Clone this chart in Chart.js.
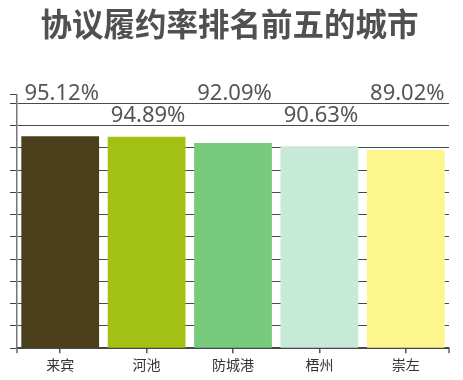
<!DOCTYPE html>
<html>
<head>
<meta charset="utf-8">
<style>
  html, body { margin: 0; padding: 0; background: #ffffff; }
  #wrap { width: 463px; height: 380px; position: relative; }
</style>
<script src="https://cdn.jsdelivr.net/npm/chart.js@4/dist/chart.umd.min.js"></script>
</head>
<body>
<div id="wrap"><canvas id="c" width="463" height="380"></canvas></div>
<script>
const titleText = '协议履约率排名前五的城市';
const categories = ['来宾', '河池', '防城港', '梧州', '崇左'];
const rates = [95.12, 94.89, 92.09, 90.63, 89.02];
const barColors = ['#4b401b', '#a3c014', '#78ca7d', '#c6e9d8', '#fdf68d'];
const yTicks = [0, 10, 20, 30, 40, 50, 60, 70, 80, 90, 100, 110, 114];
const yMax = 114;
const labelRows = [110, 100]; // gridline values the alternating labels sit on

const valueLabels = {
  id: 'valueLabels',
  afterDatasetsDraw(chart) {
    const ctx = chart.ctx;
    const meta = chart.getDatasetMeta(0);
    const ys = chart.scales.y;
    ctx.save();
    ctx.font = '22px "Noto Sans", "Open Sans", sans-serif';
    ctx.fillStyle = '#555555';
    ctx.textAlign = 'center';
    ctx.textBaseline = 'alphabetic';
    meta.data.forEach((bar, i) => {
      const y = ys.getPixelForValue(labelRows[i % 2]) - 3.5;
      ctx.fillText(rates[i].toFixed(2) + '%', bar.x + 1.5, y);
    });
    ctx.restore();
  }
};

const edgeTicks = {
  id: 'edgeTicks',
  afterDraw(chart) {
    const { ctx, chartArea } = chart;
    ctx.save();
    ctx.strokeStyle = '#666666';
    ctx.lineWidth = 1.5;
    ctx.beginPath();
    ctx.moveTo(chartArea.left, chartArea.bottom);
    ctx.lineTo(chartArea.left, chartArea.bottom + 5);
    ctx.moveTo(chartArea.right, chartArea.bottom);
    ctx.lineTo(chartArea.right, chartArea.bottom + 5);
    ctx.stroke();
    ctx.restore();
  }
};

new Chart(document.getElementById('c'), {
  type: 'bar',
  data: {
    labels: categories,
    datasets: [{
      data: rates,
      backgroundColor: barColors,
      borderWidth: 0,
      barPercentage: 0.9,
      categoryPercentage: 1.0
    }]
  },
  options: {
    responsive: false,
    animation: false,
    devicePixelRatio: 1,
    layout: { padding: { left: 10, right: 14, top: 0, bottom: 4 } },
    plugins: {
      legend: { display: false },
      tooltip: { enabled: false },
      title: {
        display: true,
        text: titleText,
        color: '#505050',
        font: { family: '"Noto Sans CJK SC", sans-serif', size: 31.5, weight: 'bold' },
        padding: { top: 5, bottom: 51.5 }
      }
    },
    scales: {
      x: {
        grid: {
          display: true,
          drawOnChartArea: false,
          offset: false,
          drawTicks: true,
          tickLength: 5,
          tickColor: '#555555',
          lineWidth: 1.5
        },
        border: { display: true, color: '#444444', width: 1.5 },
        ticks: {
          color: '#333333',
          padding: 3,
          font: { family: '"Noto Sans CJK SC", sans-serif', size: 14 }
        }
      },
      y: {
        min: 0,
        max: yMax,
        afterBuildTicks(axis) {
          axis.ticks = yTicks.map(v => ({ value: v }));
        },
        grid: {
          drawTicks: true,
          tickLength: 7,
          color: (c) => (c.tick && c.tick.value === yMax) ? 'rgba(0,0,0,0)' : '#4a4a4a',
          tickColor: '#444444',
          lineWidth: 1
        },
        border: { display: true, color: '#777777', width: 1.5 },
        ticks: { display: false }
      }
    }
  },
  plugins: [valueLabels, edgeTicks]
});
</script>
</body>
</html>
